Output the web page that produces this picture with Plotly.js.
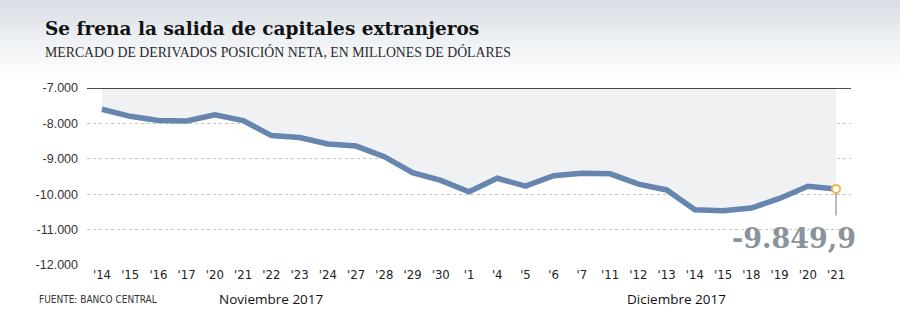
<!DOCTYPE html>
<html>
<head>
<meta charset="utf-8">
<script src="https://cdn.plot.ly/plotly-3.0.1.min.js"></script>
<style>
html,body{margin:0;padding:0;}
body{width:900px;height:332px;background:linear-gradient(to bottom,#d8dee5 0px,#eef1f4 40px,#ffffff 80px,#ffffff 332px);}
#chart{width:900px;height:332px;}
</style>
</head>
<body>
<div id="chart"></div>
<script>
const tickLabels = ["'14","'15","'16","'17","'20","'21","'22","'23","'24","'27","'28","'29","'30",
                    "'1","'4","'5","'6","'7","'11","'12","'13","'14","'15","'18","'19","'20","'21"];
const values = [-7600,-7800,-7920,-7930,-7760,-7920,-8345,-8400,-8580,-8640,-8940,-9390,-9610,
                -9930,-9550,-9770,-9480,-9405,-9425,-9715,-9880,-10440,-10470,-10390,-10120,-9775,-9849.9];
const topValue = -7000;
const lastLabel = "-9.849,9";
const monthLabels = ["Noviembre 2017","Diciembre 2017"];
const yTicks = [-7000,-8000,-9000,-10000,-11000,-12000];
const yTickText = ["-7.000","-8.000","-9.000","-10.000","-11.000","-12.000"];

const idx = values.map((v,i)=>i);
const L=87, R=851, T=88, B=265;
const px = p => (p-L)/(R-L);
const py = p => (B-p)/(B-T);

const traces = [
  {x: idx, y: idx.map(()=>topValue), mode:'lines', line:{width:0,color:'rgba(0,0,0,0)'}, hoverinfo:'skip', showlegend:false},
  {x: idx, y: values, mode:'lines', fill:'tonexty', fillcolor:'#f0f1f3',
   line:{color:'#6686b0', width:5.5}, showlegend:false},
  {x: [idx[idx.length-1]], y:[values[values.length-1]], mode:'markers',
   marker:{size:8, color:'#ffffff', line:{color:'#f2b54a', width:2}}, showlegend:false}
];

const layout = {
  width:900, height:332,
  paper_bgcolor:'rgba(0,0,0,0)', plot_bgcolor:'rgba(0,0,0,0)',
  margin:{l:L, r:900-R, t:T, b:332-B},
  showlegend:false,
  xaxis:{range:[-0.53, idx.length-1+0.53], tickvals: idx, ticktext: tickLabels,
         showgrid:false, zeroline:false, showline:false, ticks:'',
         tickfont:{family:'Liberation Sans Narrow, DejaVu Sans Condensed, sans-serif', size:13, color:'#222'}, fixedrange:true},
  yaxis:{range:[-12000,-7000], tickvals: yTicks, ticktext: yTickText,
         showgrid:true, gridcolor:'#c4c4c4', griddash:'dot', gridwidth:1,
         zeroline:false, showline:false, ticks:'', ticklabelstandoff:8,
         tickfont:{family:'Liberation Sans, Arial, sans-serif', size:12.5, color:'#333'}, fixedrange:true},
  shapes:[
    {type:'line', xref:'paper', yref:'y', x0:0, x1:1, y0:topValue, y1:topValue, line:{color:'#111', width:1.5}},
    {type:'line', xref:'x', yref:'y', x0:idx[idx.length-1], x1:idx[idx.length-1], y0:values[values.length-1]-120, y1:-10600, line:{color:'#777', width:1}}
  ],
  annotations:[
    {xref:'paper', yref:'paper', x:px(43), y:py(28), xanchor:'left', yanchor:'middle', showarrow:false,
     text:'<b>Se frena la salida de capitales extranjeros</b>',
     font:{family:'DejaVu Serif, serif', size:18.5, color:'#111'}},
    {xref:'paper', yref:'paper', x:px(43), y:py(52), xanchor:'left', yanchor:'middle', showarrow:false,
     text:'MERCADO DE DERIVADOS POSICIÓN NETA, EN MILLONES DE DÓLARES',
     font:{family:'Liberation Serif, serif', size:13.8, color:'#2a2a2a'}},
    {xref:'x', yref:'y', x:idx[idx.length-1], y:-11250, xanchor:'right', yanchor:'middle', xshift:22, showarrow:false,
     text:'<b>'+lastLabel+'</b>', font:{family:'DejaVu Serif, serif', size:27, color:'#8a939b'}},
    {xref:'paper', yref:'paper', x:px(37), y:py(299), xanchor:'left', yanchor:'middle', showarrow:false,
     text:'FUENTE: BANCO CENTRAL', font:{family:'Liberation Sans Narrow, DejaVu Sans Condensed, sans-serif', size:10, color:'#333'}},
    {xref:'paper', yref:'paper', x:px(271), y:py(299), xanchor:'center', yanchor:'middle', showarrow:false,
     text:monthLabels[0], font:{family:'Open Sans, sans-serif', size:13.5, color:'#111'}},
    {xref:'paper', yref:'paper', x:px(676), y:py(299), xanchor:'center', yanchor:'middle', showarrow:false,
     text:monthLabels[1], font:{family:'Open Sans, sans-serif', size:13.5, color:'#111'}}
  ]
};
Plotly.newPlot('chart', traces, layout, {displayModeBar:false, staticPlot:true});
</script>
</body>
</html>
